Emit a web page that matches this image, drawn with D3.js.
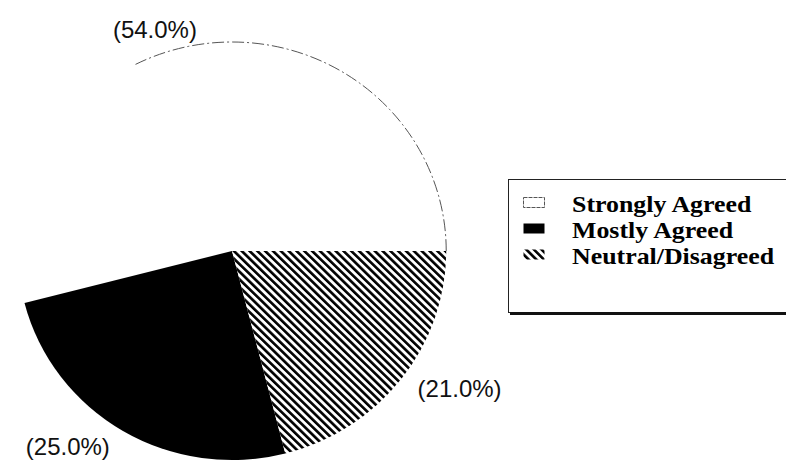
<!DOCTYPE html>
<html>
<head>
<meta charset="utf-8">
<script src="https://cdn.jsdelivr.net/npm/d3@7"></script>
<style>
  html, body { margin: 0; padding: 0; background: #fff; }
  svg { display: block; }
</style>
</head>
<body>
<svg id="chart" width="786" height="462"></svg>
<script>
// ---- data ----
const categories = ["Strongly Agreed", "Mostly Agreed", "Neutral/Disagreed"];
const values = [54.0, 25.0, 21.0];
const labels = ["(54.0%)", "(25.0%)", "(21.0%)"];
const fills = ["white", "black", "url(#hatch)"];

// ---- layout ----
const W = 786, H = 462;
const cx = 232, cy = 251, R = 209, sx = 1.025;
const labelNudge = [[-47, 19], [-42, 3], [38, 3]];

const svg = d3.select("#chart");
const defs = svg.append("defs");
const pat = defs.append("pattern")
  .attr("id", "hatch").attr("patternUnits", "userSpaceOnUse")
  .attr("width", 5.4).attr("height", 5.4)
  .attr("patternTransform", "rotate(-45)");
pat.append("rect").attr("width", 5.4).attr("height", 5.4).attr("fill", "white");
pat.append("rect").attr("x", 0).attr("y", 0).attr("width", 2.6).attr("height", 5.4).attr("fill", "black");

const pie = d3.pie().sort(null)
  .startAngle(Math.PI / 2).endAngle(Math.PI / 2 - 2 * Math.PI);
const arcs = pie(values);
const arc = d3.arc().innerRadius(0).outerRadius(R);

const g = svg.append("g").attr("transform", `translate(${cx},${cy}) scale(${sx},1)`);
g.selectAll("path.slice").data(arcs).join("path")
  .attr("class", "slice")
  .attr("d", arc)
  .attr("fill", (d, i) => fills[i])
  .attr("stroke", "none");

// faint broken outline of the white slice (upper-right part)
const p = d3.path();
p.moveTo(R, 0);
p.arc(0, 0, R, 0, -(Math.PI / 2 + 0.47), true);
g.append("path").attr("d", p.toString())
  .attr("fill", "none").attr("stroke", "#555")
  .attr("stroke-width", 1).attr("stroke-dasharray", "12,3,2,3")
  .attr("vector-effect", "non-scaling-stroke");

// percentage labels
const labelArc = d3.arc().innerRadius(R * 1.12).outerRadius(R * 1.12);
svg.selectAll("text.pct").data(arcs).join("text")
  .attr("class", "pct")
  .attr("x", (d, i) => cx + labelArc.centroid(d)[0] * sx + labelNudge[i][0])
  .attr("y", (d, i) => cy + labelArc.centroid(d)[1] + labelNudge[i][1])
  .attr("text-anchor", "middle")
  .attr("font-family", "Liberation Sans, Arial, sans-serif")
  .attr("font-size", 24)
  .attr("fill", "#111")
  .text((d, i) => labels[i]);

// legend
const lg = svg.append("g");
lg.append("rect").attr("x", 508.5).attr("y", 179.5).attr("width", 320).attr("height", 133)
  .attr("fill", "white").attr("stroke", "#222").attr("stroke-width", 1);
lg.append("line").attr("x1", 510).attr("x2", 786).attr("y1", 313.5).attr("y2", 313.5)
  .attr("stroke", "#111").attr("stroke-width", 3);

const rowY = d3.scalePoint().domain(categories).range([212, 264]);
const rows = lg.selectAll("g.row").data(categories).join("g").attr("class", "row");
rows.append("rect")
  .attr("x", 523.5).attr("y", d => rowY(d) - 14.5)
  .attr("width", 21).attr("height", 10)
  .attr("fill", (d, i) => fills[i])
  .attr("stroke", (d, i) => i === 0 ? "#555" : "none")
  .attr("stroke-dasharray", (d, i) => i === 0 ? "4,1" : null)
  .attr("stroke-width", 1);
rows.append("text")
  .attr("transform", d => `translate(572,${rowY(d)}) scale(1.15,1)`)
  .attr("font-family", "Liberation Serif, Times New Roman, serif")
  .attr("font-weight", "bold")
  .attr("font-size", 22.5)
  .attr("fill", "#000")
  .text(d => d);
</script>
</body>
</html>
